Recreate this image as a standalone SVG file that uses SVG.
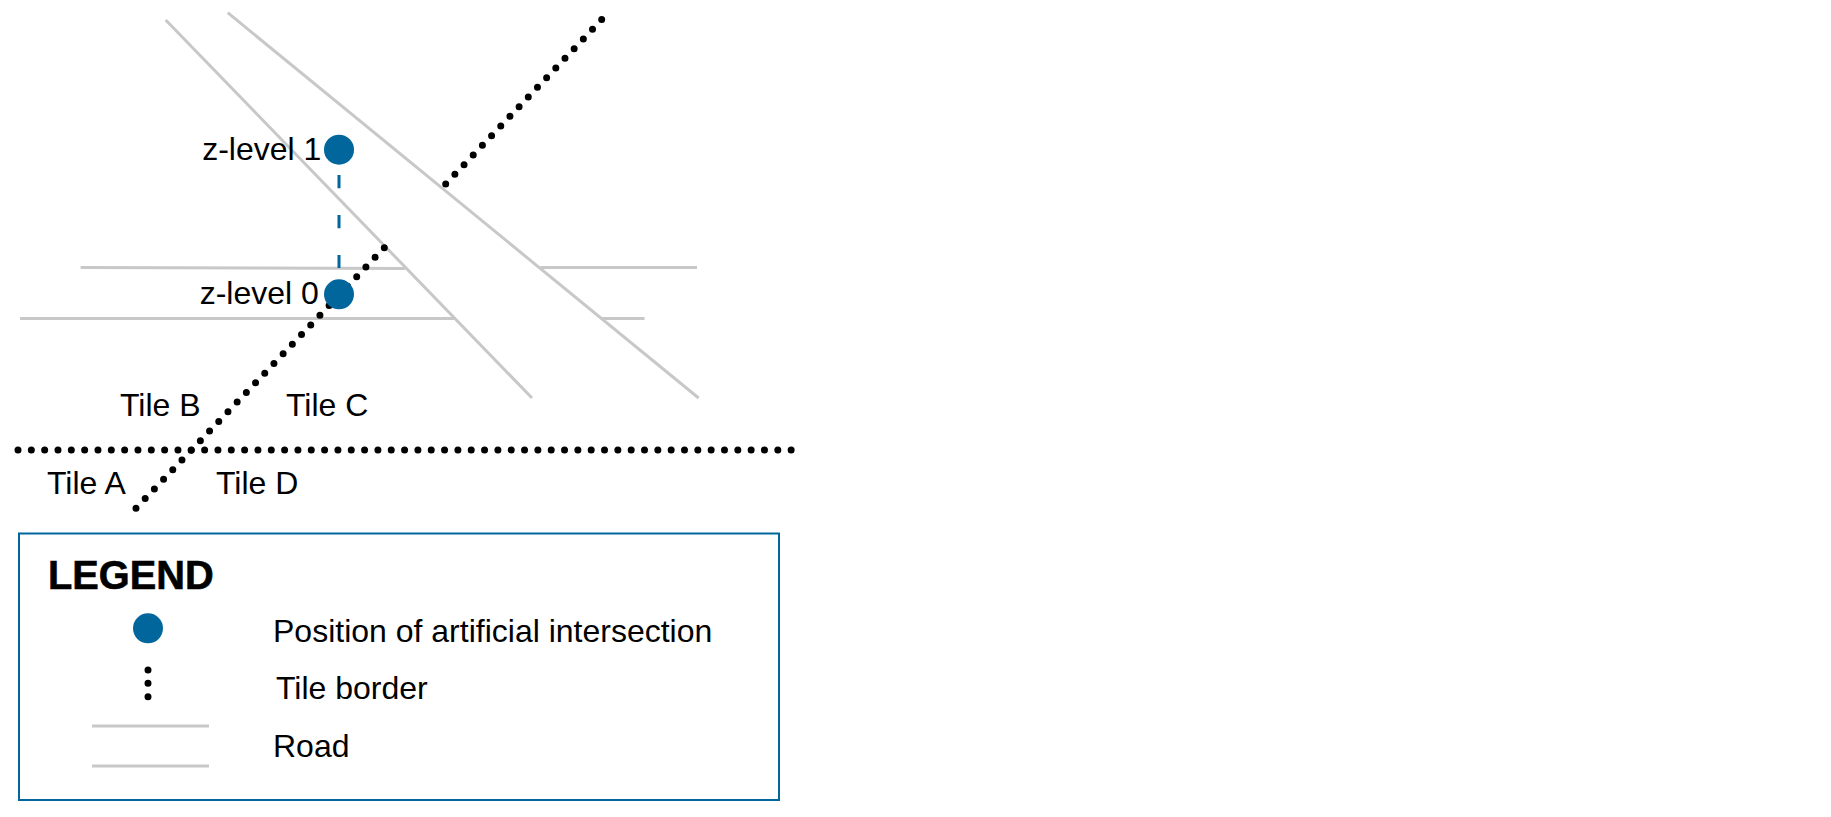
<svg xmlns="http://www.w3.org/2000/svg" width="1831" height="817" viewBox="0 0 1831 817">
<style>
text{font-family:"Liberation Sans",Arial,sans-serif;font-size:32px;fill:#000}
.road{stroke:#c8c8c8;stroke-width:3;fill:none}
.dots{stroke:#000;stroke-width:7;stroke-linecap:round;stroke-dasharray:0 13.33;fill:none}
.pt{fill:#00669c}
</style>
<rect width="1831" height="817" fill="#fff"/>
<g id="roads">
<path class="road" d="M80.6 267.4L405 268.5M540.6 267.4H697M20 318.5H455M601 318.5H644.6M165.7 20L532 398M227.7 12.7L698.6 398"/>
</g>
<g id="connectors">
<path d="M339 175V268" fill="none" stroke="#00669c" stroke-width="3" stroke-dasharray="13.3 26.7"/>
<path class="dots" d="M445.7 184L603.7 17.5"/>
<path class="dots" d="M384.3 247.7L134.3 510"/>
<path class="dots" d="M18 450H796"/>
</g>
<g id="z-level-1"><circle class="pt" cx="339" cy="149.7" r="15"/><text x="202.2" y="160">z-level 1</text></g>
<g id="z-level-0"><circle class="pt" cx="339" cy="294.3" r="15"/><text x="199.7" y="304">z-level 0</text></g>
<g id="tile-labels">
<text x="47" y="494.3">Tile A</text>
<text x="120" y="416">Tile B</text>
<text x="286" y="416">Tile C</text>
<text x="216" y="494.3">Tile D</text>
</g>
<g id="legend">
<rect x="19" y="533.5" width="760" height="266.5" fill="none" stroke="#00669c" stroke-width="2"/>
<text x="48" y="589" style="font-size:39.8px;font-weight:bold;stroke:#000;stroke-width:.6">LEGEND</text>
<circle class="pt" cx="148" cy="628.3" r="15"/>
<text x="273" y="642">Position of artificial intersection</text>
<path class="dots" d="M148 670V697"/>
<text x="276" y="699">Tile border</text>
<path class="road" d="M92 726H209M92 766H209"/>
<text x="273" y="757">Road</text>
</g>
</svg>
